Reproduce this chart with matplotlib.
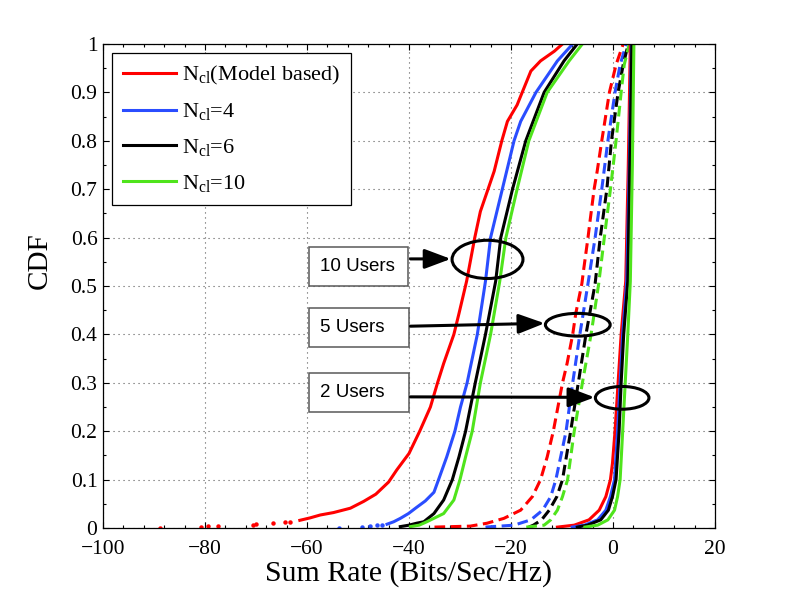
import matplotlib
matplotlib.use("Agg")
import matplotlib.pyplot as plt
from matplotlib.patches import Ellipse, Rectangle
from matplotlib.ticker import MultipleLocator

plt.rcParams['font.family'] = ['Liberation Serif', 'DejaVu Serif']
plt.rcParams['mathtext.fontset'] = 'custom'
plt.rcParams['mathtext.rm'] = 'Liberation Serif'

# ---------------- data ----------------
labels = [r'$\mathregular{N_{cl}}$(Model based)', r'$\mathregular{N_{cl}}$=4',
          r'$\mathregular{N_{cl}}$=6', r'$\mathregular{N_{cl}}$=10']
colors = ['#ff0000', '#2a4dff', '#000000', '#4fe41c']

# 10 users (solid) - sparse tail samples drawn as dots
red10_tail_x = [-88.9, -80.7, -79.4, -77.4, -70.6, -69.9, -66.6, -64.3, -63.3]
red10_tail_y = [0.001, 0.002, 0.004, 0.005, 0.007, 0.009, 0.011, 0.012, 0.013]
blue10_tail_x = [-53.8, -49.2, -47.6, -46.3, -45.3]
blue10_tail_y = [0.001, 0.003, 0.005, 0.006, 0.007]

red10_x = [-61.4, -59.4, -57.4, -54.8, -51.5, -48.9, -46.5, -44.0, -42.4, -40.0, -37.9,
           -35.8, -34.4, -33.2, -31.2, -30.2, -28.7, -27.1, -26.0, -24.5, -23.3, -21.8,
           -20.7, -18.8, -17.8, -16.1, -14.2, -11.5, -9.9]
red10_y = [0.016, 0.021, 0.027, 0.032, 0.041, 0.055, 0.07, 0.095, 0.12, 0.154, 0.2,
           0.25, 0.3, 0.34, 0.4, 0.443, 0.51, 0.6, 0.654, 0.7, 0.737, 0.8,
           0.84, 0.874, 0.9, 0.944, 0.965, 0.985, 1.0]
blue10_x = [-44.3, -43.0, -41.7, -40.1, -38.6, -36.8, -35.1, -34.2, -32.6, -31.0, -29.9,
            -28.6, -26.6, -25.0, -24.0, -21.7, -19.4, -18.1, -15.1, -10.9, -7.9]
blue10_y = [0.008, 0.013, 0.02, 0.03, 0.042, 0.056, 0.074, 0.1, 0.147, 0.2, 0.25,
            0.3, 0.4, 0.51, 0.6, 0.7, 0.8, 0.84, 0.9, 0.965, 1.0]
black10_x = [-41.7, -40.0, -38.5, -37.1, -35.1, -33.2, -31.5, -30.2, -28.9, -27.0, -25.0,
             -23.0, -22.0, -19.7, -17.1, -13.5, -9.6, -7.0]
black10_y = [0.003, 0.006, 0.01, 0.013, 0.03, 0.058, 0.1, 0.147, 0.2, 0.3, 0.4,
             0.51, 0.6, 0.7, 0.8, 0.9, 0.965, 1.0]
green10_x = [-39.7, -38.0, -36.5, -33.2, -31.2, -30.0, -28.9, -27.6, -26.0, -24.0, -22.2,
             -21.0, -18.8, -16.5, -12.9, -8.6, -6.0]
green10_y = [0.003, 0.006, 0.013, 0.03, 0.058, 0.1, 0.147, 0.2, 0.3, 0.4, 0.51,
             0.6, 0.7, 0.8, 0.9, 0.965, 1.0]

# 5 users (dashed)
red5_x = [-35.0, -28.0, -24.7, -21.4, -18.1, -15.8, -14.2, -12.9, -11.7, -10.8, -9.9, -9.0,
          -7.9, -7.3, -6.1, -5.8, -4.9, -4.5, -3.7, -3.1, -2.2, -1.6, -0.7, 0.6, 2.0]
red5_y = [0.002, 0.004, 0.01, 0.02, 0.037, 0.065, 0.1, 0.147, 0.2, 0.25, 0.3, 0.34,
          0.4, 0.443, 0.505, 0.53, 0.6, 0.634, 0.7, 0.737, 0.8, 0.84, 0.9, 0.957, 1.0]
cdf5 = [0.002, 0.006, 0.017, 0.037, 0.065, 0.1, 0.2, 0.3, 0.4, 0.505, 0.6, 0.7, 0.8, 0.9, 0.957, 1.0]
blue5_x = [-25.0, -19.4, -16.1, -13.8, -12.2, -11.2, -9.2, -7.9, -6.5, -4.9, -3.5, -2.2, -1.0, 0.4, 1.4, 2.6]
black5_x = [-16.5, -15.6, -14.0, -12.5, -11.0, -9.9, -8.3, -6.8, -5.3, -3.5, -2.5, -1.2, -0.3, 1.0, 2.0, 3.0]
green5_x = [-17.0, -13.5, -12.2, -10.9, -9.9, -8.9, -7.6, -6.0, -4.3, -2.8, -1.7, -0.5, 0.6, 1.6, 2.2, 3.2]

# 2 users (solid)
red2_x = [-10.9, -7.6, -4.7, -2.7, -1.4, -0.5, -0.1, 0.4, 1.0, 1.6, 2.5, 3.0, 3.4]
red2_y = [0.002, 0.006, 0.017, 0.037, 0.065, 0.1, 0.134, 0.2, 0.3, 0.4, 0.51, 0.75, 1.0]
cdf2 = [0.002, 0.006, 0.017, 0.037, 0.065, 0.1, 0.2, 0.3, 0.4, 0.51, 0.75, 1.0]
blue2_x = [-8.0, -5.6, -3.0, -1.4, -0.5, 0.3, 0.9, 1.4, 1.9, 2.7, 3.2, 3.6]
black2_x = [-7.0, -5.0, -2.4, -0.9, -0.1, 0.6, 1.2, 1.6, 2.1, 2.9, 3.3, 3.7]
green2_x = [-5.5, -3.0, -1.0, 0.3, 0.9, 1.4, 1.9, 2.4, 2.9, 3.4, 3.8, 4.1]

x_ticks = [-100, -80, -60, -40, -20, 0, 20]
y_ticks = [0, 0.1, 0.2, 0.3, 0.4, 0.5, 0.6, 0.7, 0.8, 0.9, 1]
y_ticklabels = ['0', '0.1', '0.2', '0.3', '0.4', '0.5', '0.6', '0.7', '0.8', '0.9', '1']

# annotations: label, box (x0, x1, y0, y1), arrow start/end, ellipse (cx, cy, w, h)
ann_labels = ['10 Users', '5 Users', '2 Users']
ann_boxes = [(-59.7, -40.2, 0.500, 0.581), (-59.7, -40.0, 0.373, 0.455), (-59.7, -40.0, 0.239, 0.321)]
ann_arrows = [((-39.7, 0.556), (-31.8, 0.556)), ((-39.7, 0.417), (-13.4, 0.423)), ((-39.7, 0.271), (-3.6, 0.270))]
ann_ellipses = [(-24.6, 0.555, 13.9, 0.079), (-6.9, 0.42, 12.7, 0.047), (1.8, 0.269, 10.5, 0.047)]

# ---------------- plot ----------------
fig = plt.figure(figsize=(7.89, 5.94), dpi=100)
ax = fig.add_axes([0.1305, 0.111, 0.7757, 0.815])

lw = 2.2
dash = (0, (3.5, 1.8))

ax.plot(red10_tail_x, red10_tail_y, 'o', color=colors[0], ms=3.2, mec='none')
ax.plot(blue10_tail_x, blue10_tail_y, 'o', color=colors[1], ms=3.2, mec='none')
curves10 = [(red10_x, red10_y), (blue10_x, blue10_y), (black10_x, black10_y), (green10_x, green10_y)]
handles = []
for (xs, ys), c, lab in zip(curves10, colors, labels):
    h, = ax.plot(xs, ys, '-', color=c, lw=lw, label=lab)
    handles.append(h)

curves5 = [(red5_x, red5_y), (blue5_x, cdf5), (black5_x, cdf5), (green5_x, cdf5)]
for (xs, ys), c in zip(curves5, colors):
    ax.plot(xs, ys, color=c, lw=lw, linestyle=dash)

curves2 = [(red2_x, red2_y), (blue2_x, cdf2), (black2_x, cdf2), (green2_x, cdf2)]
for (xs, ys), c in zip(curves2, colors):
    ax.plot(xs, ys, '-', color=c, lw=lw)

ax.set_xlim(-100, 20)
ax.set_ylim(0, 1)
ax.set_xticks(x_ticks)
ax.set_yticks(y_ticks)
ax.set_yticklabels(y_ticklabels)
ax.xaxis.set_minor_locator(MultipleLocator(4))
ax.yaxis.set_minor_locator(MultipleLocator(0.05))
ax.tick_params(which='both', direction='in', top=True, right=True, width=0.8)
ax.tick_params(which='major', length=4, labelsize=15.5)
ax.tick_params(axis='x', which='major', pad=8.5)
ax.tick_params(axis='y', which='major', pad=4)
ax.tick_params(which='minor', length=2.5)
ax.grid(True, which='major', color='0.35', linestyle=(0, (1, 3.5)), linewidth=0.8)
for s in ax.spines.values():
    s.set_linewidth(0.9)

ax.set_xlabel('Sum Rate (Bits/Sec/Hz)', fontsize=21.5, va='center')
ax.xaxis.set_label_coords(0.5, -0.093)
ax.set_ylabel('CDF', fontsize=21, va='center')
ax.yaxis.set_label_coords(-0.103, 0.552)

leg = ax.legend(handles=handles, loc='upper left', bbox_to_anchor=(0.014, 0.982),
                borderaxespad=0, fontsize=16, frameon=True, fancybox=False,
                edgecolor='black', framealpha=1, handlelength=2.4, handletextpad=0.26,
                labelspacing=0.66, borderpad=0.5)
leg.get_frame().set_linewidth(0.9)

for lab, (x0, x1, y0, y1), (p0, p1), (cx, cy, w, h) in zip(ann_labels, ann_boxes, ann_arrows, ann_ellipses):
    ax.add_patch(Rectangle((x0, y0), x1 - x0, y1 - y0, facecolor='white',
                           edgecolor='0.35', lw=1.1, zorder=5))
    ax.text(x0 + 2.2, (y0 + y1) / 2, lab, family=['Liberation Sans', 'DejaVu Sans'],
            fontsize=13.5, ha='left', va='center', zorder=6)
    ax.annotate('', xy=p1, xytext=p0, zorder=6,
                arrowprops=dict(arrowstyle='-|>,head_length=0.8,head_width=0.3',
                                mutation_scale=20, color='black', lw=2.2,
                                shrinkA=0, shrinkB=0))
    ax.add_patch(Ellipse((cx, cy), w, h, facecolor='none', edgecolor='black', lw=2.2, zorder=6))

fig.savefig('out.png', dpi=100)
